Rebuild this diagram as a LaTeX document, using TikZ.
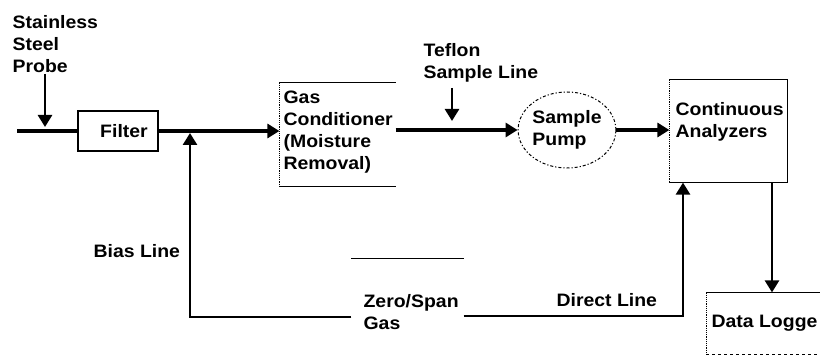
\documentclass[tikz,border=0pt]{standalone}
\usepackage{fontspec}
\setmainfont{Liberation Sans}[FakeStretch=1.08]
\usetikzlibrary{arrows.meta,positioning,shapes.geometric}

\begin{document}
\begin{tikzpicture}[x=1pt,y=-1pt,line width=1.2pt,
 font=\fontsize{18}{22}\selectfont\bfseries,
 >={Triangle[length=12pt,width=14pt]},
 lbl/.style={inner sep=0pt,align=left},
 unit/.style={inner sep=0pt},
 flow/.style={line width=3.5pt},
 feed/.style={line width=2.6pt}]
\useasboundingbox (0,0) rectangle (820,355);
\node[unit,draw,minimum width=80pt,minimum height=40pt] (filter) at (118,131) {\hspace*{12pt}Filter};
\node[unit,minimum width=115pt,minimum height=103pt] (gc) at (337.5,134.5) {};
\node[unit,draw,ellipse,dash dot,line width=1pt,align=left,minimum width=85pt,minimum height=76pt] (pump) at (567,130) {Sample\\Pump};
\node[unit,minimum width=117pt,minimum height=102pt] (an) at (728.5,131) {};
\node[unit,minimum width=111pt,minimum height=70pt] (zs) at (407.5,294) {};
\node[unit,minimum width=113pt,minimum height=61pt] (dl) at (763.5,323.5) {};
\draw (gc.north west) -- (gc.north east) (gc.south west) -- (gc.south east);
\draw[densely dotted] (gc.north west) -- (gc.south west);
\draw (an.north west) -- (an.north east) -- (an.south east) -- (an.south west);
\draw[densely dotted] (an.north west) -- (an.south west);
\draw (zs.north west) -- (zs.north east);
\draw (dl.north west) -- (dl.north east);
\draw[densely dotted] (dl.north west) -- (dl.south west);
\draw[dashed] (dl.south west) -- (dl.south east);

\node[lbl,anchor=north west] (probetxt) at (12,15) {Stainless\\Steel\\Probe};
\node[lbl,anchor=north west] (gctxt) at (283,90) {Gas\\Conditioner\\(Moisture\\Removal)};
\node[lbl,anchor=north west] (tefltxt) at (423,43) {Teflon\\Sample Line};
\node[lbl,anchor=north west] (antxt) at (675,102) {Continuous\\Analyzers};
\node[lbl,anchor=north west] (zstxt) at (363,294) {Zero/Span\\Gas};
\node[lbl,anchor=base west] (biastxt) at (93,258) {Bias Line};
\node[lbl,anchor=base west] (directtxt) at (556,307) {Direct Line};
\node[lbl,anchor=base west] (dltxt) at (711,328) {Data Logge};

\coordinate (inlet) at (17,131);
\coordinate (probe) at (45,74);
\coordinate (teflon) at (452,88);
\coordinate (bias) at (190,317);
\coordinate (direct) at (683,316);
\coordinate (logtap) at (772,0);
\draw[flow] (inlet) -- (filter.west);
\draw[feed,->,shorten >=4pt] (probe) -- (probe |- filter.west);
\draw[flow,->] (filter.east) -- (gc.west |- filter.east);
\draw[flow,->] (gc.east |- pump.west) -- (pump.west);
\draw[feed,->,shorten >=9pt] (teflon) -- (teflon |- pump.west);
\draw[flow,->] (pump.east) -- (an.west |- pump.east);
\draw[feed,->] (an.south -| logtap) -- (dl.north -| logtap);
\draw[feed,->,shorten >=2pt] (zs.west |- bias) -- (bias) -- (bias |- filter.east);
\draw[feed,->] (zs.east |- direct) -- (direct) -- (direct |- an.south);
\end{tikzpicture}
\end{document}
